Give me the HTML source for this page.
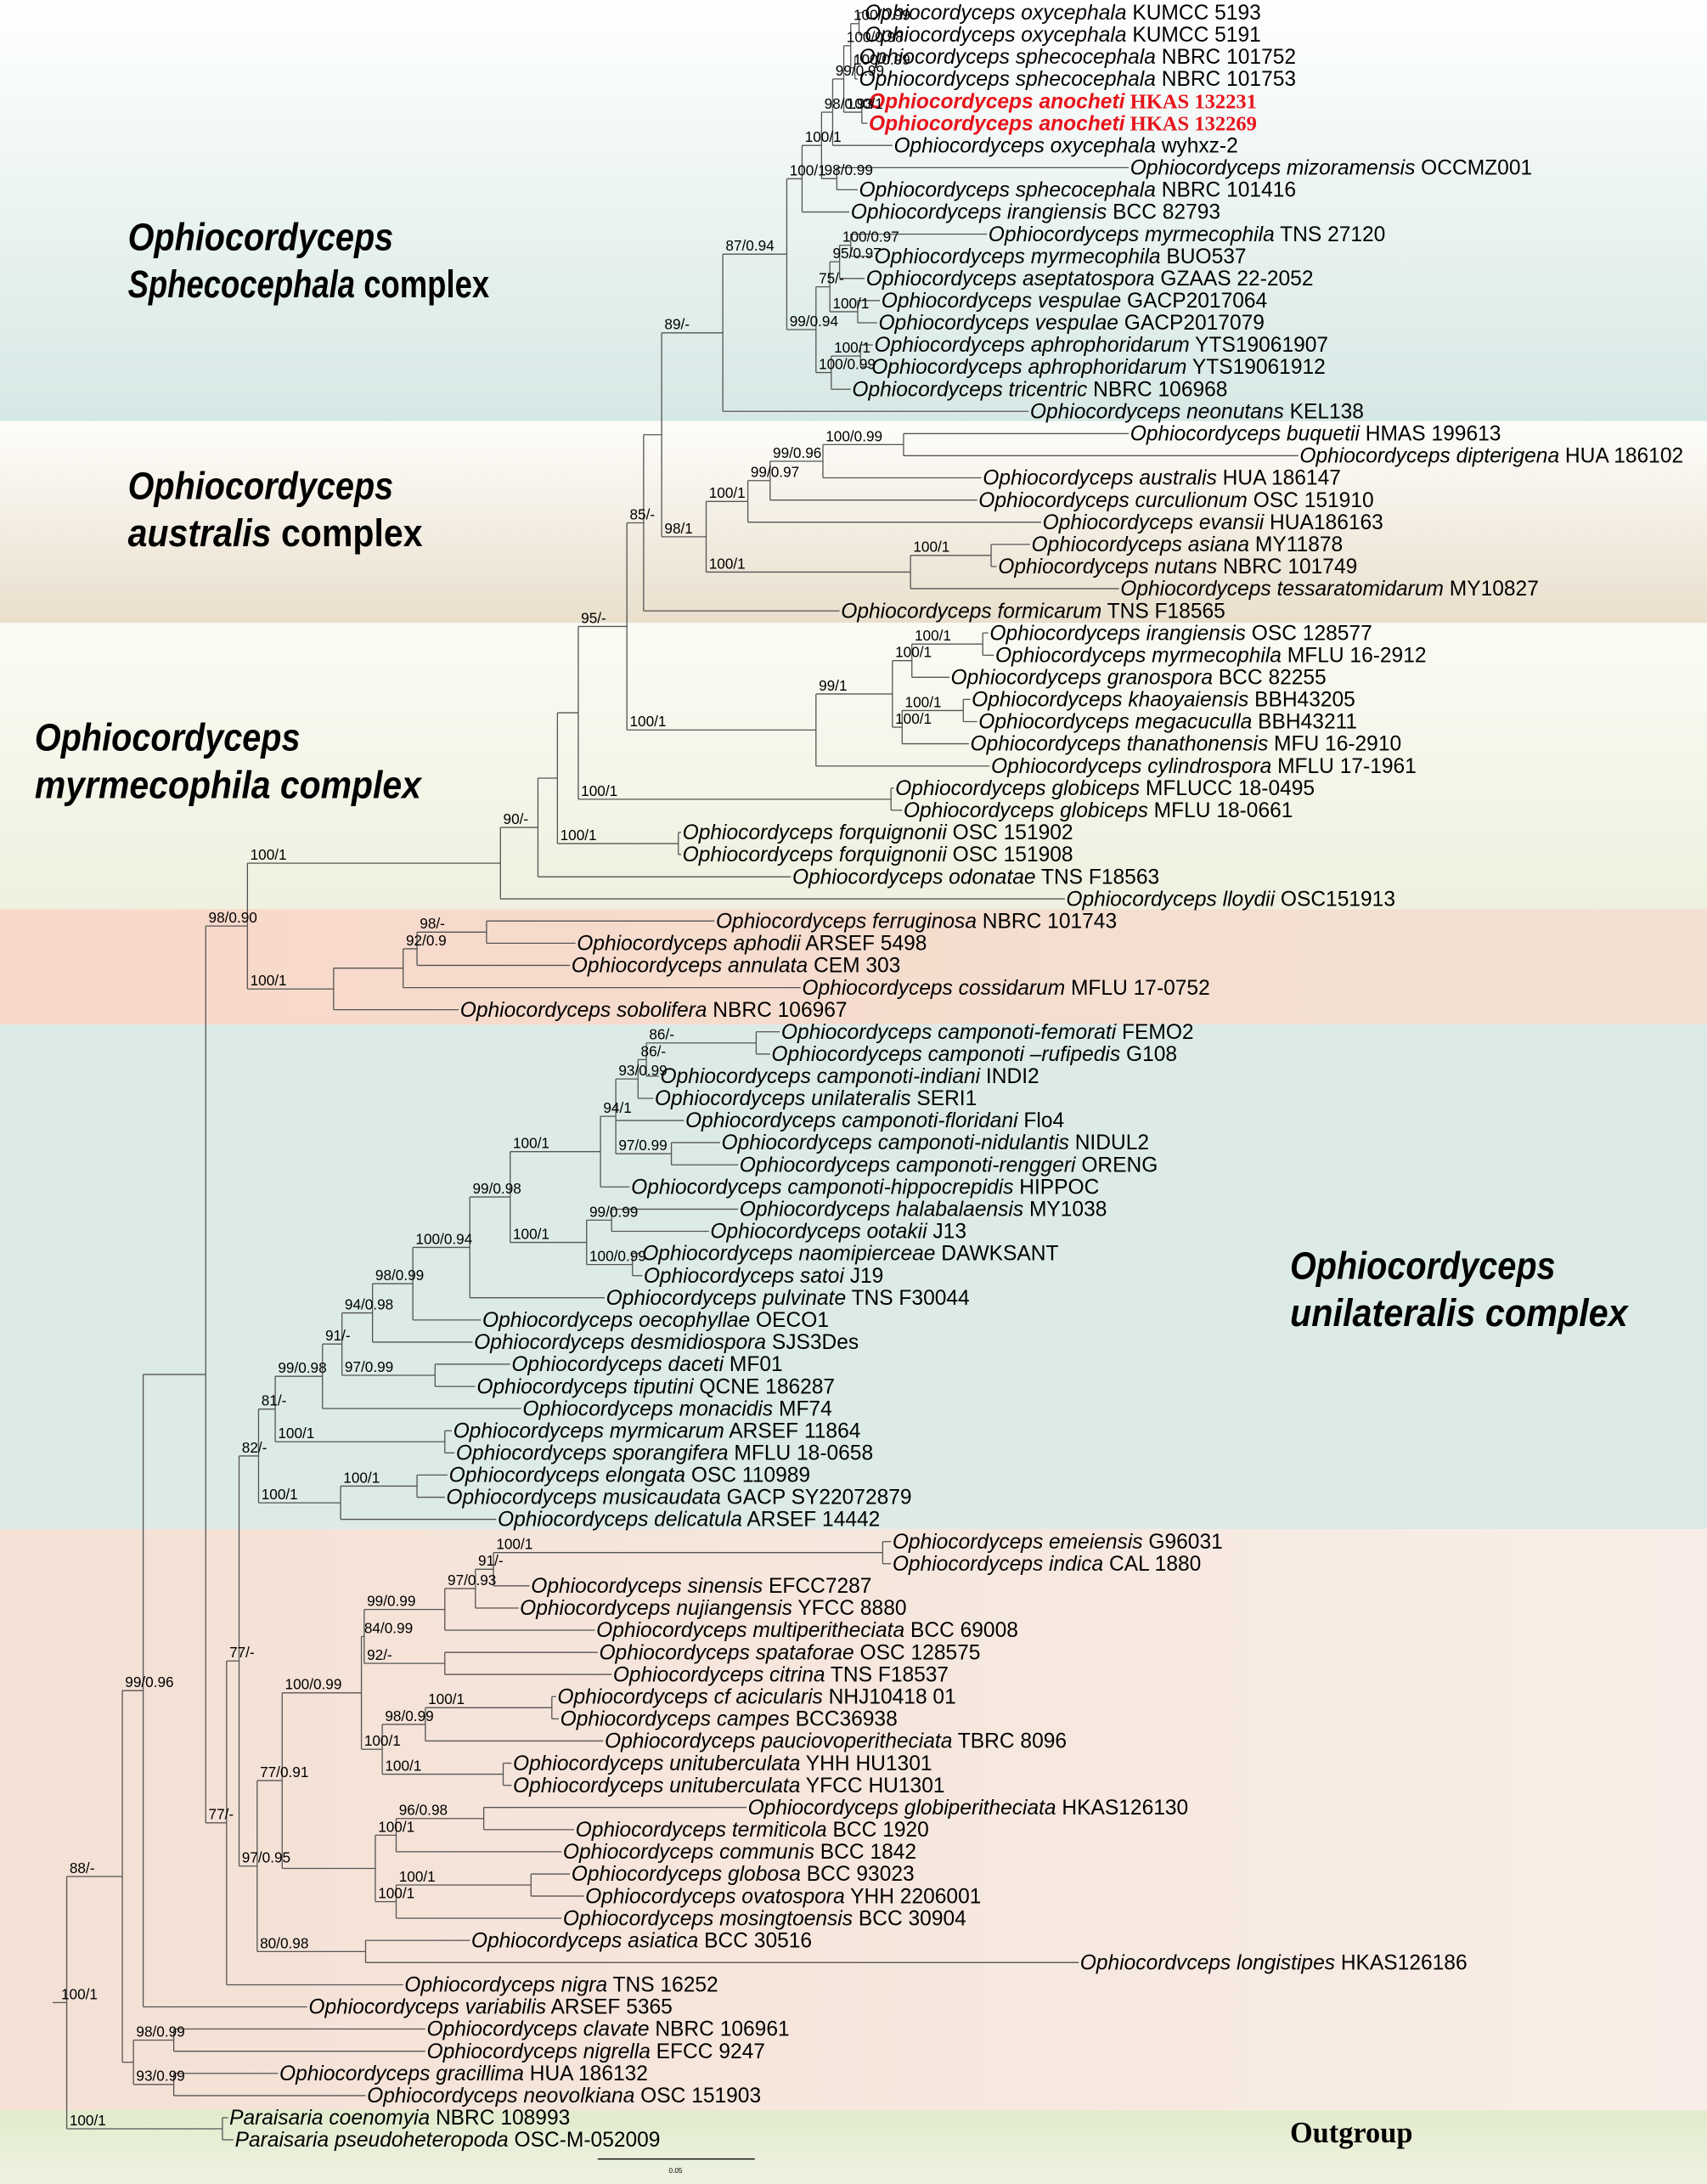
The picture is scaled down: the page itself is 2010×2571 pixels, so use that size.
<!DOCTYPE html>
<html><head><meta charset="utf-8"><style>
html,body{margin:0;padding:0;background:#fff;}
svg{display:block;}
.t{font-family:"Liberation Sans",sans-serif;font-size:15px;fill:#000;}
.r{fill:#e8141b;font-weight:bold;}
.s{font-family:"Liberation Sans",sans-serif;font-size:10.5px;fill:#000;}
.big{font-family:"Liberation Sans",sans-serif;font-size:28px;font-weight:bold;fill:#000;}
</style></head><body>
<svg id="svg" width="2010" height="2571" viewBox="0 0 1228 1571" preserveAspectRatio="none" xmlns="http://www.w3.org/2000/svg">
<defs>
<linearGradient id="g1" x1="0" y1="0" x2="0" y2="1"><stop offset="0" stop-color="#ffffff"/><stop offset="1" stop-color="#d6e8e5"/></linearGradient>
<linearGradient id="g2" x1="0" y1="0" x2="0" y2="1"><stop offset="0" stop-color="#fefdfb"/><stop offset="1" stop-color="#e9dfcc"/></linearGradient>
<linearGradient id="g3" x1="0" y1="0" x2="0" y2="1"><stop offset="0" stop-color="#fbfbf4"/><stop offset="1" stop-color="#eff0df"/></linearGradient>
<linearGradient id="g4" x1="0" y1="0" x2="1" y2="0"><stop offset="0" stop-color="#f8d8c9"/><stop offset="1" stop-color="#f2e1d3"/></linearGradient>
<linearGradient id="g6" x1="0" y1="0" x2="1" y2="0"><stop offset="0" stop-color="#f4e0d4"/><stop offset="1" stop-color="#f8ede6"/></linearGradient>
<linearGradient id="g7" x1="0" y1="0" x2="0" y2="1"><stop offset="0" stop-color="#e2ebcc"/><stop offset="1" stop-color="#eef2e2"/></linearGradient>
</defs>
<rect x="0" y="0" width="1228" height="303" fill="url(#g1)"/>
<rect x="0" y="303" width="1228" height="145" fill="url(#g2)"/>
<rect x="0" y="448" width="1228" height="206" fill="url(#g3)"/>
<rect x="0" y="654" width="1228" height="83" fill="url(#g4)"/>
<rect x="0" y="737" width="1228" height="363" fill="#dcebe7"/>
<rect x="0" y="1100" width="1228" height="418" fill="url(#g6)"/>
<rect x="0" y="1518" width="1228" height="53" fill="url(#g7)"/>
<text class="big" x="92" y="180" font-style="italic" textLength="191" lengthAdjust="spacingAndGlyphs">Ophiocordyceps</text>
<text class="big" x="92" y="214" textLength="260" lengthAdjust="spacingAndGlyphs"><tspan font-style="italic">Sphecocephala</tspan> complex</text>
<text class="big" x="92" y="359" font-style="italic" textLength="191" lengthAdjust="spacingAndGlyphs">Ophiocordyceps</text>
<text class="big" x="92" y="393" textLength="212" lengthAdjust="spacingAndGlyphs"><tspan font-style="italic">australis</tspan> complex</text>
<text class="big" x="25" y="540" font-style="italic" textLength="191" lengthAdjust="spacingAndGlyphs">Ophiocordyceps</text>
<text class="big" x="25" y="574" font-style="italic" textLength="278" lengthAdjust="spacingAndGlyphs">myrmecophila complex</text>
<text class="big" x="928" y="920" font-style="italic" textLength="191" lengthAdjust="spacingAndGlyphs">Ophiocordyceps</text>
<text class="big" x="928" y="954" font-style="italic" textLength="243" lengthAdjust="spacingAndGlyphs">unilateralis complex</text>
<text x="928" y="1541" font-family="Liberation Serif,serif" font-size="21" font-weight="bold">Outgroup</text>
<line x1="430" y1="1553" x2="543" y2="1553" stroke="#000" stroke-width="0.8"/>
<text x="486" y="1563" font-family="Liberation Sans,sans-serif" font-size="5" text-anchor="middle">0.05</text>
<g id="tree"></g>
</svg>
<script>
function L(x,n,s,red){return {x:x,n:n,s:s,red:!!red};}
function N(x,lab,ch){return {x:x,lab:lab,ch:ch};}
var J=N(618,"100/0.99",[L(621,"Ophiocordyceps oxycephala","KUMCC 5193"),L(621,"Ophiocordyceps oxycephala","KUMCC 5191")]);
var K=N(615,"100/0.99",[L(617,"Ophiocordyceps sphecocephala","NBRC 101752"),L(617,"Ophiocordyceps sphecocephala","NBRC 101753")]);
var H=N(612,"100/0.98",[J,K]);
var I=N(620,"100/1",[L(624,"Ophiocordyceps anocheti","HKAS 132231",1),L(624,"Ophiocordyceps anocheti","HKAS 132269",1)]);
var G=N(607,"99/0.99",[H,I]);
var E=N(599,"98/0.93",[G,L(642,"Ophiocordyceps oxycephala","wyhxz-2")]);
var F=N(602,"98/0.99",[L(812,"Ophiocordyceps mizoramensis","OCCMZ001"),L(617,"Ophiocordyceps sphecocephala","NBRC 101416")]);
var D=N(591,"100/1",[E,F]);
var B=N(577,"100/1",[D,L(611,"Ophiocordyceps irangiensis","BCC 82793")]);
var O=N(612,"100/0.97",[L(710,"Ophiocordyceps myrmecophila","TNS 27120"),L(628,"Ophiocordyceps myrmecophila","BUO537")]);
var Nn=N(604,"95/0.97",[O,L(622,"Ophiocordyceps aseptatospora","GZAAS 22-2052")]);
var P=N(617,"100/1",[L(633,"Ophiocordyceps vespulae","GACP2017064"),L(631,"Ophiocordyceps vespulae","GACP2017079")]);
var Lq=N(597,"75/-",[Nn,P]);
var Q=N(619,"100/1",[L(628,"Ophiocordyceps aphrophoridarum","YTS19061907"),L(626,"Ophiocordyceps aphrophoridarum","YTS19061912")]);
var M=N(598,"100/0.99",[Q,L(612,"Ophiocordyceps tricentric","NBRC 106968")]);
var C=N(587,"99/0.94",[Lq,M]);
var A=N(566,"87/0.94",[B,C]);
var SPH=N(520,"89/-",[A,L(740,"Ophiocordyceps neonutans","KEL138")]);
var W=N(650,"100/0.99",[L(812,"Ophiocordyceps buquetii","HMAS 199613"),L(934,"Ophiocordyceps dipterigena","HUA 186102")]);
var V=N(592,"99/0.96",[W,L(706,"Ophiocordyceps australis","HUA 186147")]);
var U=N(554,"99/0.97",[V,L(703,"Ophiocordyceps curculionum","OSC 151910")]);
var S=N(538,"100/1",[U,L(749,"Ophiocordyceps evansii","HUA186163")]);
var Z=N(713,"100/1",[L(741,"Ophiocordyceps asiana","MY11878"),L(717,"Ophiocordyceps nutans","NBRC 101749")]);
var T=N(655,"100/1",[Z,L(805,"Ophiocordyceps tessaratomidarum","MY10827")]);
var R=N(508,"98/1",[S,T]);
var X=N(476,"",[SPH,R]);
var Y=N(463,"85/-",[X,L(604,"Ophiocordyceps formicarum","TNS F18565")]);
var IR3=N(707,"100/1",[L(711,"Ophiocordyceps irangiensis","OSC 128577"),L(715,"Ophiocordyceps myrmecophila","MFLU 16-2912")]);
var IR2=N(656,"100/1",[IR3,L(683,"Ophiocordyceps granospora","BCC 82255")]);
var IR5=N(693,"100/1",[L(698,"Ophiocordyceps khaoyaiensis","BBH43205"),L(703,"Ophiocordyceps megacuculla","BBH43211")]);
var IR4=N(649,"100/1",[IR5,L(697,"Ophiocordyceps thanathonensis","MFU 16-2910")]);
var IR1=N(642,"99/1",[IR2,IR4]);
var IR=N(587,"100/1",[IR1,L(712,"Ophiocordyceps cylindrospora","MFLU 17-1961")]);
var AA=N(451,"95/-",[Y,IR]);
var GB=N(641,"100/1",[L(643,"Ophiocordyceps globiceps","MFLUCC 18-0495"),L(649,"Ophiocordyceps globiceps","MFLU 18-0661")]);
var M4=N(416,"",[AA,GB]);
var FQ=N(488,"100/1",[L(490,"Ophiocordyceps forquignonii","OSC 151902"),L(490,"Ophiocordyceps forquignonii","OSC 151908")]);
var M3=N(401,"",[M4,FQ]);
var M2=N(387,"90/-",[M3,L(569,"Ophiocordyceps odonatae","TNS F18563")]);
var M1=N(360,"100/1",[M2,L(766,"Ophiocordyceps lloydii","OSC151913")]);
var F2=N(350,"98/-",[L(514,"Ophiocordyceps ferruginosa","NBRC 101743"),L(414,"Ophiocordyceps aphodii","ARSEF 5498")]);
var F3=N(300,"92/0.9",[F2,L(410,"Ophiocordyceps annulata","CEM 303")]);
var F1=N(290,"",[F3,L(576,"Ophiocordyceps cossidarum","MFLU 17-0752")]);
var F0=N(240,"100/1",[F1,L(330,"Ophiocordyceps sobolifera","NBRC 106967")]);
var M0=N(178,"98/0.90",[M1,F0]);
var UK6=N(544,"86/-",[L(561,"Ophiocordyceps camponoti-femorati","FEMO2"),L(554,"Ophiocordyceps camponoti \u2013rufipedis","G108")]);
var UK5=N(465,"86/-",[UK6,L(474,"Ophiocordyceps camponoti-indiani","INDI2")]);
var UK2=N(459,"93/0.99",[UK5,L(470,"Ophiocordyceps unilateralis","SERI1")]);
var UK4=N(483,"97/0.99",[L(518,"Ophiocordyceps camponoti-nidulantis","NIDUL2"),L(531,"Ophiocordyceps camponoti-renggeri","ORENG")]);
var UK1=N(443,"94/1",[UK2,L(492,"Ophiocordyceps camponoti-floridani","Flo4"),UK4]);
var UK=N(432,"100/1",[UK1,L(453,"Ophiocordyceps camponoti-hippocrepidis","HIPPOC")]);
var UL0=N(440,"99/0.99",[L(531,"Ophiocordyceps halabalaensis","MY1038"),L(510,"Ophiocordyceps ootakii","J13")]);
var UL2=N(455,"100/0.99",[L(461,"Ophiocordyceps naomipierceae","DAWKSANT"),L(462,"Ophiocordyceps satoi","J19")]);
var UL=N(422,"100/1",[UL0,UL2]);
var UJ=N(367,"99/0.98",[UK,UL]);
var UI=N(338,"100/0.94",[UJ,L(435,"Ophiocordyceps pulvinate","TNS F30044")]);
var UH=N(297,"98/0.99",[UI,L(346,"Ophiocordyceps oecophyllae","OECO1")]);
var UF=N(268,"94/0.98",[UH,L(340,"Ophiocordyceps desmidiospora","SJS3Des")]);
var UG=N(313,"97/0.99",[L(367,"Ophiocordyceps daceti","MF01"),L(342,"Ophiocordyceps tiputini","QCNE 186287")]);
var UE=N(246,"91/-",[UF,UG]);
var UC=N(232,"99/0.98",[UE,L(375,"Ophiocordyceps monacidis","MF74")]);
var UD=N(320,"100/1",[L(325,"Ophiocordyceps myrmicarum","ARSEF 11864"),L(327,"Ophiocordyceps sporangifera","MFLU 18-0658")]);
var UA=N(198,"81/-",[UC,UD]);
var UB1=N(300,"100/1",[L(322,"Ophiocordyceps elongata","OSC 110989"),L(320,"Ophiocordyceps musicaudata","GACP SY22072879")]);
var UB=N(245,"100/1",[UB1,L(357,"Ophiocordyceps delicatula","ARSEF 14442")]);
var UU=N(186,"82/-",[UA,UB]);
var L13=N(635,"100/1",[L(641,"Ophiocordyceps emeiensis","G96031"),L(641,"Ophiocordyceps indica","CAL 1880")]);
var L12=N(355,"91/-",[L13,L(381,"Ophiocordyceps sinensis","EFCC7287")]);
var L11=N(342,"97/0.93",[L12,L(373,"Ophiocordyceps nujiangensis","YFCC 8880")]);
var L9=N(320,"99/0.99",[L11,L(428,"Ophiocordyceps multiperitheciata","BCC 69008")]);
var L10=N(320,"92/-",[L(430,"Ophiocordyceps spataforae","OSC 128575"),L(440,"Ophiocordyceps citrina","TNS F18537")]);
var L7=N(262,"84/0.99",[L9,L10]);
var L16=N(397,"100/1",[L(400,"Ophiocordyceps cf acicularis","NHJ10418 01"),L(402,"Ophiocordyceps campes","BCC36938")]);
var L14=N(306,"98/0.99",[L16,L(434,"Ophiocordyceps pauciovoperitheciata","TBRC 8096")]);
var L15=N(362,"100/1",[L(368,"Ophiocordyceps unituberculata","YHH HU1301"),L(368,"Ophiocordyceps unituberculata","YFCC HU1301")]);
var L8=N(275,"100/1",[L14,L15]);
var L3=N(260,"100/0.99",[L7,L8]);
var L5a=N(348,"96/0.98",[L(537,"Ophiocordyceps globiperitheciata","HKAS126130"),L(413,"Ophiocordyceps termiticola","BCC 1920")]);
var L5=N(285,"100/1",[L5a,L(404,"Ophiocordyceps communis","BCC 1842")]);
var L6a=N(382,"100/1",[L(410,"Ophiocordyceps globosa","BCC 93023"),L(420,"Ophiocordyceps ovatospora","YHH 2206001")]);
var L6=N(285,"100/1",[L6a,L(404,"Ophiocordyceps mosingtoensis","BCC 30904")]);
var L4=N(270,"",[L5,L6]);
var L1=N(203,"77/0.91",[L3,L4]);
var L2=N(263,"80/0.98",[L(338,"Ophiocordyceps asiatica","BCC 30516"),L(776,"Ophiocordvceps longistipes","HKAS126186")]);
var L0=N(185,"97/0.95",[L1,L2]);
var U1=N(172,"77/-",[UU,L0]);
var U0=N(163,"77/-",[U1,L(290,"Ophiocordyceps nigra","TNS 16252")]);
var R4=N(148,"",[M0,U0]);
var R3=N(103,"99/0.96",[R4,L(221,"Ophiocordyceps variabilis","ARSEF 5365")]);
var Cl1=N(125,"98/0.99",[L(306,"Ophiocordyceps clavate","NBRC 106961"),L(306,"Ophiocordyceps nigrella","EFCC 9247")]);
var Cl2=N(125,"93/0.99",[L(200,"Ophiocordyceps gracillima","HUA 186132"),L(263,"Ophiocordyceps neovolkiana","OSC 151903")]);
var Cl=N(96,"",[Cl1,Cl2]);
var R2=N(88,"88/-",[R3,Cl]);
var OUT=N(160,"100/1",[L(164,"Paraisaria coenomyia","NBRC 108993"),L(168,"Paraisaria pseudoheteropoda","OSC-M-052009")]);
var R1=N(48,"100/1",[R2,OUT]);
var ROOT=N(42,"",[R1]);

var out=[],idx=0;
function lay(n){
  if(!n.ch){n.y=9+idx*15.94;idx++;return n.y;}
  var ys=n.ch.map(lay);n.y=(ys[0]+ys[ys.length-1])/2;return n.y;
}
lay(ROOT);
function ln(x1,y1,x2,y2){out.push('<line x1="'+x1+'" y1="'+y1.toFixed(1)+'" x2="'+x2+'" y2="'+y2.toFixed(1)+'" stroke="#555" stroke-width="0.8"/>');}
function esc(s){return s.replace(/&/g,"&amp;").replace(/</g,"&lt;");}
function draw(n){
  if(!n.ch){
    var cls=n.red?'t r':'t';
    var suf=n.red?'<tspan font-family="Liberation Serif,serif" font-style="normal"> '+esc(n.s)+'</tspan>':'<tspan font-style="normal"> '+esc(n.s)+'</tspan>';
    out.push('<text class="'+cls+'" x="'+(n.x+1)+'" y="'+(n.y+5).toFixed(1)+'"><tspan font-style="italic">'+esc(n.n)+'</tspan>'+suf+'</text>');
    return;
  }
  var c0=n.ch[0],c1=n.ch[n.ch.length-1];
  if(n.ch.length>1) ln(n.x,c0.y,n.x,c1.y);
  n.ch.forEach(function(c){ln(n.x,c.y,c.x,c.y);draw(c);});
  n.ch.forEach(function(c){if(c.lab)out.push('<text class="s" x="'+(n.x+2)+'" y="'+(c.y-2.5).toFixed(1)+'">'+c.lab+'</text>');});
}
ln(38,ROOT.y,42,ROOT.y);
draw(ROOT);
document.getElementById("tree").innerHTML=out.join("");
</script>
</body></html>
